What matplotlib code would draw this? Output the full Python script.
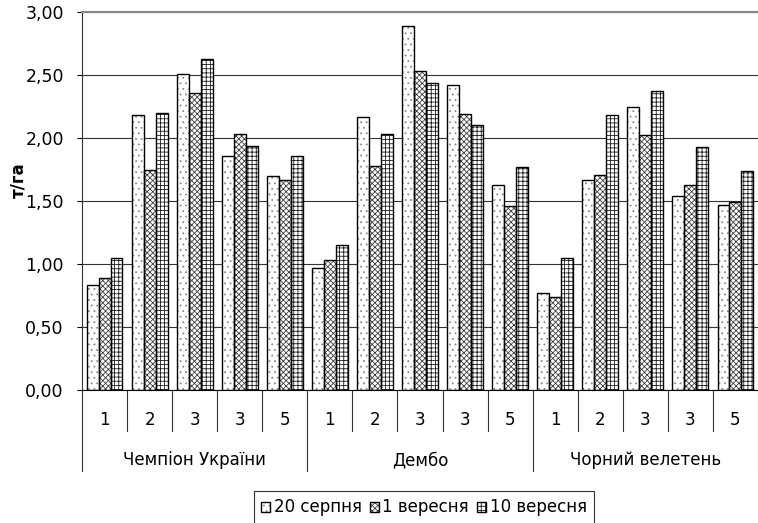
import matplotlib
matplotlib.use("Agg")
import matplotlib.pyplot as plt
import matplotlib.transforms as mtransforms
from matplotlib.ticker import FuncFormatter, MultipleLocator
import numpy as np

plt.rcParams.update(
    {
        "font.family": "DejaVu Sans",
        "font.size": 12,
        "hatch.linewidth": 0.6,
    }
)

# data (т/га)
GROUPS = ["Чемпіон України", "Дембо", "Чорний велетень"]
SUB_LABELS = ["1", "2", "3", "3", "5"]
SERIES = ["20 серпня", "1 вересня", "10 вересня"]
AUG_20 = [0.83, 2.18, 2.51, 1.86, 1.70, 0.97, 2.17, 2.89, 2.42, 1.63, 0.77, 1.67, 2.25, 1.54, 1.47]
SEP_1 = [0.89, 1.75, 2.36, 2.03, 1.67, 1.03, 1.78, 2.53, 2.19, 1.46, 0.74, 1.71, 2.02, 1.63, 1.49]
SEP_10 = [1.05, 2.20, 2.63, 1.94, 1.86, 1.15, 2.03, 2.44, 2.10, 1.77, 1.05, 2.18, 2.37, 1.93, 1.74]

HATCHES = ["...", "xxxxxx", "++++"]
HATCH_COLORS = ["#8a8a8a", "#404040", "#1a1a1a"]

W, H = 758, 523
fig = plt.figure(figsize=(W / 100, H / 100), dpi=100)
ax = fig.add_axes([82 / W, 1 - 390 / H, 676 / W, 378 / H])

n_sub = len(SUB_LABELS)
x = np.arange(len(GROUPS) * n_sub)
bw = 0.265

handles = []
for i, (vals, hatch, hc) in enumerate(zip([AUG_20, SEP_1, SEP_10], HATCHES, HATCH_COLORS)):
    pos = x + (i - 1) * bw
    hb = ax.bar(pos, vals, bw, color="white", edgecolor=hc, hatch=hatch, linewidth=0, zorder=2)
    ob = ax.bar(pos, vals, bw, fill=False, edgecolor="black", linewidth=1.0, zorder=3)
    handles.append((hb.patches[0], ob.patches[0]))

ax.set_xlim(-0.5, len(x) - 0.5)
ax.set_ylim(0, 3.0)
ax.yaxis.set_major_locator(MultipleLocator(0.5))
ax.yaxis.set_major_formatter(FuncFormatter(lambda v, _: f"{v:.2f}".replace(".", ",")))
ax.tick_params(axis="y", direction="out", length=3.6, width=0.8, pad=9.5, labelsize=12.5)
ax.set_xticks([])
ax.yaxis.grid(True, color="#333333", linewidth=0.8)
ax.set_axisbelow(True)

ax.spines["right"].set_visible(False)
ax.spines["top"].set_color("#888888")
ax.spines["top"].set_linewidth(1.5)
ax.spines["left"].set_color("#333333")
ax.spines["bottom"].set_color("black")

# two-level category axis
trans = mtransforms.blended_transform_factory(ax.transData, ax.transAxes)
for k in range(len(x) + 1):
    bx = k - 0.5
    depth = -0.214 if k % n_sub == 0 else -0.108
    ax.plot([bx, bx], [0, depth], transform=trans, color="#333333", linewidth=0.8, clip_on=False)
for k, xi in enumerate(x):
    ax.text(xi, -0.079, SUB_LABELS[k % n_sub], transform=trans, ha="center", va="center")
for g, name in enumerate(GROUPS):
    ax.text(g * n_sub + (n_sub - 1) / 2, -0.185, name, transform=trans, ha="center", va="center")

fig.text(18 / W, 1 - 180 / H, "т/га", rotation=90, ha="center", va="center",
         fontsize=12, fontweight="bold")

leg = fig.legend(
    handles,
    SERIES,
    loc="upper center",
    bbox_to_anchor=(424 / W, 1 - 491 / H),
    ncol=3,
    frameon=True,
    fancybox=False,
    handlelength=0.55,
    handleheight=0.55,
    handletextpad=0.2,
    columnspacing=0.5,
    borderpad=0.45,
    borderaxespad=0,
)
leg.get_frame().set_edgecolor("black")
leg.get_frame().set_linewidth(0.8)

fig.savefig("out.png", dpi=100)
